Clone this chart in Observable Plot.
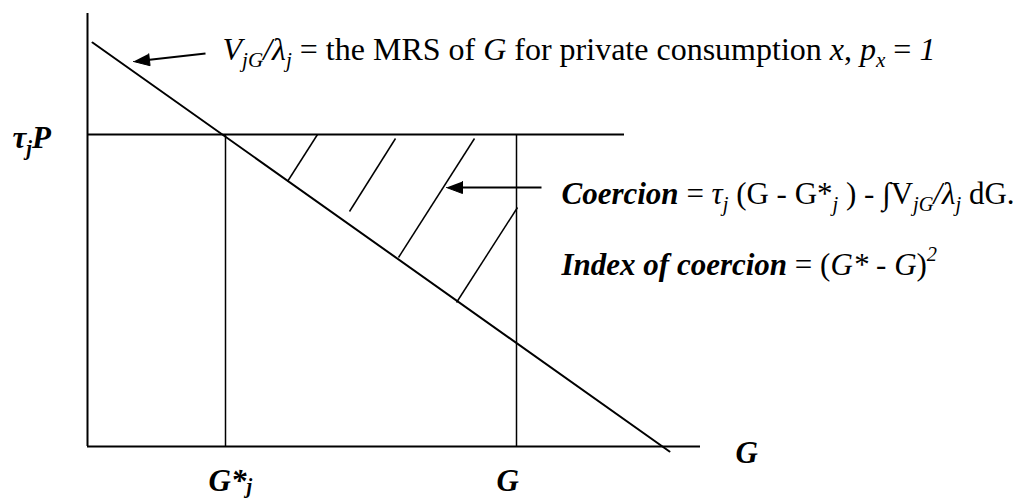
<!DOCTYPE html>
<html><head><meta charset="utf-8">
<script src="https://cdn.jsdelivr.net/npm/d3@7"></script>
<script src="https://cdn.jsdelivr.net/npm/@observablehq/plot@0.6"></script>
<style>html,body{margin:0;padding:0;background:#fff;} svg text{white-space:pre;}</style>
</head><body><div id="chart"></div>
<script>
// Diagram units: horizontal = quantity of G, vertical = price; origin at the axes' corner
const axisX = [0, 613];          // G axis extent
const axisY = [0, 433];          // price axis extent
const tauP = 312;                // tax price level τjP
const tauPExtent = [0, 537];
const gStar = 138;               // G*j
const gActual = 429;             // G
const mrsX = [5, 582];           // V_jG/λj (MRS) curve end points
const mrsY = [404, -5];
const hatchX1 = [230, 308, 387, 430];
const hatchY1 = [312, 308, 308, 239];
const hatchX2 = [200, 262, 311, 369];
const hatchY2 = [265, 235, 189, 144];
const arrowTailX = [118, 454];
const arrowTailY = [393, 259];
const arrowTipX = [46, 359];
const arrowTipY = [385, 259];

// Labels
const noteKeys = ["mrs", "coercion", "index"];
const noteX = [135, 474, 474];
const noteY = [387, 243, 172];
const noteSizes = [32, 31, 31];
const axisLabelKeys = ["tauP", "gStar", "gActual", "gAxis"];
const axisLabelX = [-75, 121, 409, 648];
const axisLabelY = [299, -44, -44, -16];
const axisLabelSizes = [31, 31, 31, 31];

const richMrs = [["V","i"],["jG","i_"],["/λ","i"],["j","i_"],[" = the MRS of ",""],["G","i"],[" for private consumption ",""],["x","i"],[", ",""],["p","i"],["x","i_"],[" = ",""],["1","i"]];
const richCoercion = [["Coercion","bi"],[" = ",""],["τ","i"],["j","i_"],[" (G - G*",""],["j","i_"],[" ) - ",""],["∫","i"],["V",""],["jG","i_"],["/λ","i"],["j","i_"],[" dG.",""]];
const richIndex = [["Index of coercion","bi"],[" = (",""],["G*","i"],[" - ",""],["G","i"],[")",""],["2","i^"]];
const richTauP = [["τ","bi"],["j","bi_"],["P","bi"]];
const richGStar = [["G*","bi"],["j","bi."]];
const richG = [["G","bi"]];
const rich = {mrs: richMrs, coercion: richCoercion, index: richIndex, tauP: richTauP, gStar: richGStar, gActual: richG, gAxis: richG};

const font = "Liberation Serif, Times New Roman, serif";

// Build tables
const hatches = hatchX1.map((x, i) => ({x1: x, y1: hatchY1[i], x2: hatchX2[i], y2: hatchY2[i]}));
const mrs = mrsX.map((x, i) => ({x, y: mrsY[i]}));
const headLen = 16, headHalf = 6;
const shafts = [], heads = [];
arrowTipX.forEach((tx, i) => {
  const ty = arrowTipY[i], sx = arrowTailX[i], sy = arrowTailY[i];
  const L = Math.hypot(tx - sx, ty - sy), ux = (tx - sx) / L, uy = (ty - sy) / L;
  const px = -uy, py = ux;
  const bx = tx - ux * headLen, by = ty - uy * headLen;
  shafts.push({x1: sx, y1: sy, x2: bx + ux * 2, y2: by + uy * 2});
  heads.push({id: i, x: tx, y: ty}, {id: i, x: bx + px * headHalf, y: by + py * headHalf}, {id: i, x: bx - px * headHalf, y: by - py * headHalf});
});
const notes = noteKeys.map((k, i) => ({k, x: noteX[i], y: noteY[i]}));
const axisLabels = axisLabelKeys.map((k, i) => ({k, x: axisLabelX[i], y: axisLabelY[i]}));
const sizeOf = {};
noteKeys.forEach((k, i) => sizeOf[k] = noteSizes[i]);
axisLabelKeys.forEach((k, i) => sizeOf[k] = axisLabelSizes[i]);

const svg = Plot.plot({
  width: 1030, height: 498, margin: 0,
  x: {domain: [-87, 943], axis: null},
  y: {domain: [-52, 446], axis: null},
  style: {background: "#fff"},
  marks: [
    Plot.ruleY([0], {x1: axisX[0], x2: axisX[1], stroke: "black", strokeWidth: 2}),
    Plot.ruleX([0], {y1: axisY[0], y2: axisY[1], stroke: "black", strokeWidth: 2}),
    Plot.ruleY([tauP], {x1: tauPExtent[0], x2: tauPExtent[1], stroke: "black", strokeWidth: 2}),
    Plot.ruleX([gStar, gActual], {y1: 0, y2: tauP, stroke: "black", strokeWidth: 1.5}),
    Plot.line(mrs, {x: "x", y: "y", stroke: "black", strokeWidth: 2}),
    Plot.link(hatches, {x1: "x1", y1: "y1", x2: "x2", y2: "y2", stroke: "black", strokeWidth: 1.5}),
    Plot.link(shafts, {x1: "x1", y1: "y1", x2: "x2", y2: "y2", stroke: "black", strokeWidth: 2}),
    Plot.line(heads, {x: "x", y: "y", z: "id", fill: "black", stroke: "black", strokeWidth: 1}),
    Plot.text(notes, {x: "x", y: "y", text: "k", textAnchor: "start", lineAnchor: "bottom", fontSize: 31, fontFamily: font, fill: "black"}),
    Plot.text(axisLabels, {x: "x", y: "y", text: "k", textAnchor: "start", lineAnchor: "bottom", fontSize: 31, fontFamily: font, fill: "black"})
  ]
});

d3.select(svg).selectAll("text").each(function() {
  const key = this.textContent;
  const segs = rich[key];
  if (!segs) return;
  const base = sizeOf[key];
  const sel = d3.select(this).attr("font-size", base);
  sel.text(null);
  let shift = 0;
  for (const [t, f] of segs) {
    const target = f.includes("_") ? 0.24 * base : f.includes(".") ? 0.08 * base : f.includes("^") ? -0.42 * base : 0;
    const ts = sel.append("tspan").text(t);
    if (f.includes("i")) ts.attr("font-style", "italic");
    if (f.includes("b")) ts.attr("font-weight", "bold");
    if (f.includes("_") || f.includes(".") || f.includes("^")) ts.attr("font-size", 0.66 * base);
    if (target !== shift) { ts.attr("dy", target - shift); shift = target; }
  }
});

document.getElementById("chart").appendChild(svg);
</script>
</body></html>
